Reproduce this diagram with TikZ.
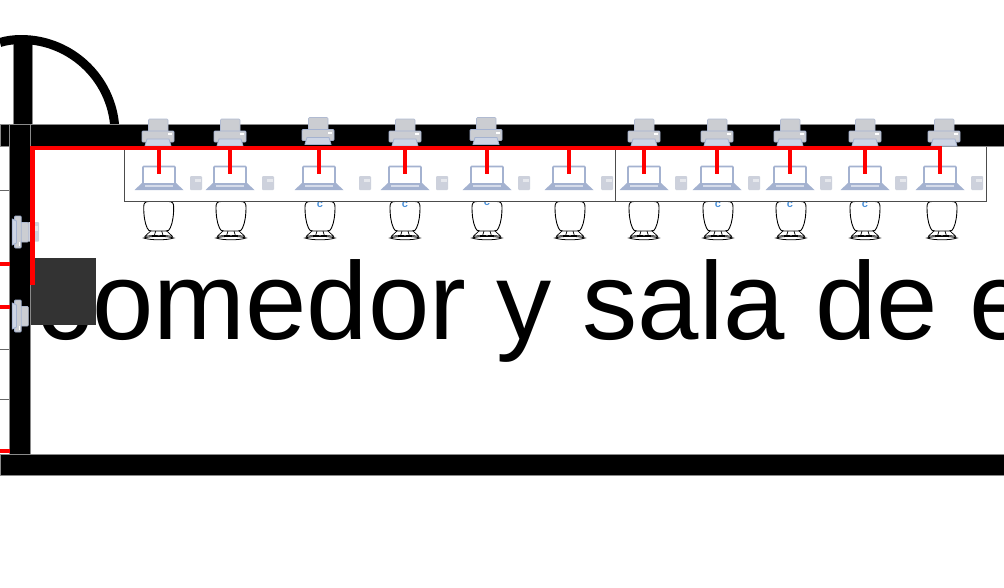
\documentclass[tikz,border=0pt]{standalone}
\usepackage{fontspec}
\setmainfont{Liberation Sans}
\definecolor{wallgray}{HTML}{8A8A8A}
\definecolor{iconline}{HTML}{A4B2D0}
\definecolor{icongray}{HTML}{CBCDD2}
\definecolor{phonegray}{HTML}{CDD1DC}
\definecolor{darkbox}{HTML}{333333}
\definecolor{markblue}{HTML}{4A90D9}
\tikzset{
  wall/.style={fill=black, draw=wallgray, line width=0.6pt},
  redline/.style={red, line width=4.5pt},
  tableline/.style={draw=black!70, fill=white, line width=0.9pt},
  printericon/.pic={
    \fill[icongray, draw=iconline!70!icongray, line width=0.6pt, rounded corners=1pt] (-9.5,-14) rectangle (10,-1);
    \fill[icongray, draw=iconline, line width=0.9pt, rounded corners=1pt] (-16,-2) rectangle (16,9);
    \fill[iconline!55!white, draw=iconline, line width=0.8pt] (-11,6) -- (11,6) -- (13,13) -- (-13,13) -- cycle;
    \fill[white] (10,0) rectangle (14,2);
  },
  laptopicon/.pic={
    \draw[iconline, fill=white, line width=1.6pt, rounded corners=0.8pt] (-16,5.5) -- (-16,-11.5) -- (16,-11.5) -- (16,5.5);
    \fill[iconline] (-17,5) -- (17,5) -- (24.5,12) -- (-24.5,12) -- cycle;
    \fill[white!55!iconline] (-14,7) rectangle (14,8.5);
  },
  phoneicon/.pic={
    \fill[phonegray, rounded corners=1pt] (-6,-6) rectangle (6,8);
    \fill[white!50!phonegray] (-1,-3) rectangle (4.5,0);
  },
  chairicon/.pic={
    \draw[black, line width=0.9pt] (-10,-19.5) -- (10,-19.5) .. controls (13.5,-19.5) and (15,-18) .. (15,-14)
      .. controls (15,-6) and (14,2) .. (11.5,7) .. controls (10.5,9.5) and (9.5,10) .. (7,10)
      -- (-7,10) .. controls (-9.5,10) and (-10.5,9.5) .. (-11.5,7)
      .. controls (-14,2) and (-15,-6) .. (-15,-14) .. controls (-15,-18) and (-13.5,-19.5) .. (-10,-19.5) -- cycle;
    \draw[black, line width=0.7pt] (-8,10) -- (-14,15.5) (8,10) -- (14,15.5)
      (-3,10) -- (-4.5,15) (3,10) -- (4.5,15)
      (-14,15.5) .. controls (-8,14) and (8,14) .. (14,15.5);
    \draw[black, line width=0.8pt] (-15,17) .. controls (-8,14.8) and (8,14.8) .. (15,17) .. controls (8,19.4) and (-8,19.4) .. (-15,17) -- cycle;
  },
}
\begin{document}
\begin{tikzpicture}[x=1pt, y=-1pt]
\useasboundingbox (0,0) rectangle (1004,587);
\node[anchor=base west, inner sep=0pt, font=\fontsize{110.35}{110}\selectfont] (roomlabel) at (36.7,339.5) {comedor y sala de e};
\node[fill=darkbox, minimum width=66pt, minimum height=67pt, inner sep=0pt, anchor=north west] (darksquare) at (30,258) {};
% chairs and table
\foreach \xpos in {158.7,231,320,405,487,570,644,718,791,865,942} {
  \pic at (\xpos,221) {chairicon};
}
\foreach \xpos/\ypos in {158/197,231/197,320/205,405/205,487/203,570/197,644/197,718/205,790/205,865/205} {
  \node[text=markblue, font=\fontsize{11}{11}\selectfont\bfseries, inner sep=0pt] at (\xpos,\ypos) {c};
}
\filldraw[tableline] (124,146) rectangle (986,201);
\draw[tableline] (615,146) -- (615,201);
% walls and door
\filldraw[wall] (13,36) rectangle (32,125);
\draw[black, line width=9pt] (0,42.5) .. controls (6,40.5) and (14,39.5) .. (21,39.5) arc[start angle=90, end angle=0, radius=94pt];
\filldraw[wall] (0,124) rectangle (1004,146);
\filldraw[wall] (9,124) rectangle (30,475);
\filldraw[wall] (0,454) rectangle (1004,475);
% thin lines on the left
\foreach \ypos in {190,349,399} {
  \draw[black!60, line width=0.8pt] (0,\ypos) -- (9,\ypos);
}
\foreach \ypos in {264,307,451} {
  \draw[red, line width=3.5pt] (0,\ypos) -- (10,\ypos);
}
% left wall printers
\pic[xscale=0.95, yscale=1.4] at (33.5,230.5) {phoneicon};
\pic[rotate=-90, yscale=0.6] at (20,232) {printericon};
\pic[rotate=-90, yscale=0.6] at (20,316) {printericon};
% desks
\foreach \xpos/\phonex/\name in {159/196/a,230/268/b,319/365/c,405/442/d,487/524/e,569/607/f,644/681/g,717/754/h,790/826/i,865/901/j,940/977/k} {
  \pic at (\xpos,178) {laptopicon};
  \pic at (\phonex,182) {phoneicon};
  \coordinate (trunk\name) at (\xpos,148);
  \coordinate (laptop\name) at (\xpos,174);
}
\foreach \xpos/\ypos in {158/133,230/133,318/131.5,405/133,486/131.5,644/133,717/133,790/133,865/133,944/133} {
  \pic at (\xpos,\ypos) {printericon};
}
% network
\coordinate (trunkstart) at (32.3,285);
\coordinate (trunkcorner) at (32.3,148);
\coordinate (trunkend) at (942.2,148);
\draw[redline] (trunkstart) -- (trunkcorner) -- (trunkend);
\foreach \name in {a,b,c,d,e,f,g,h,i,j,k} {
  \draw[redline] (trunk\name) -- (laptop\name);
}
\end{tikzpicture}
\end{document}
